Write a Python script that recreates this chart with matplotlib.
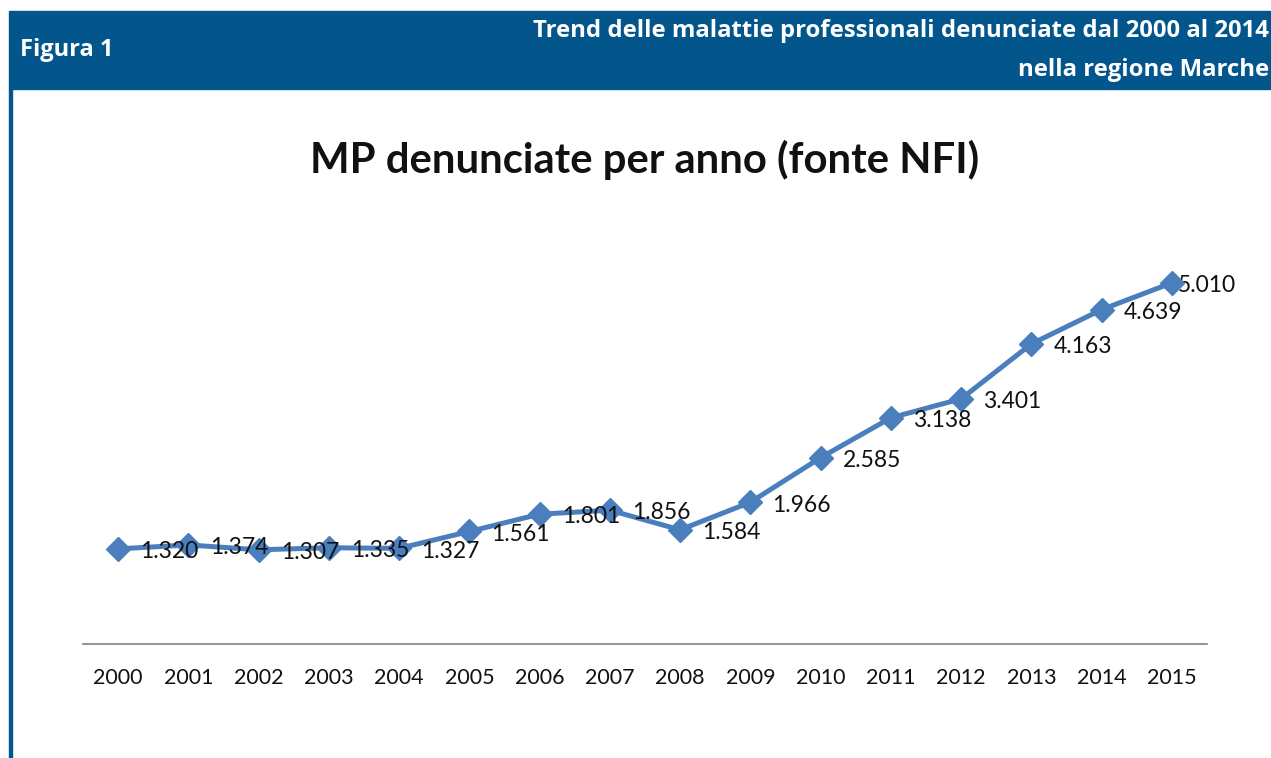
import matplotlib.pyplot as plt
from matplotlib.patches import Rectangle

years = ["2000", "2001", "2002", "2003", "2004", "2005", "2006", "2007",
         "2008", "2009", "2010", "2011", "2012", "2013", "2014", "2015"]
cases = [1320, 1374, 1307, 1335, 1327, 1561, 1801, 1856,
         1584, 1966, 2585, 3138, 3401, 4163, 4639, 5010]

header_left = "Figura 1"
header_right = "Trend delle malattie professionali denunciate dal 2000 al 2014\nnella regione Marche"
chart_title = "MP denunciate per anno (fonte NFI)"

BLUE_HEADER = "#02568C"
LINE_COLOR = "#4A7EBD"

W, H = 1271, 758
fig = plt.figure(figsize=(W / 100, H / 100), dpi=100)

# header band and left frame line (figure pixel coords)
fig.patches.append(Rectangle((9 / W, (H - 89) / H), (W - 9) / W, 78 / H,
                             transform=fig.transFigure, color=BLUE_HEADER, zorder=0))
fig.patches.append(Rectangle((9 / W, 0), 2.5 / W, (H - 89) / H,
                             transform=fig.transFigure, color=BLUE_HEADER, zorder=0))
fig.text(20 / W, 1 - 50 / H, header_left, color="white", fontsize=17,
         fontweight="bold", family="Open Sans", va="center", ha="left")
fig.text(1269 / W, 1 - 50.5 / H, header_right, color="white", fontsize=17.2,
         fontweight="bold", family="Open Sans", va="center", ha="right",
         linespacing=1.8, multialignment="right")

fig.text(645 / W, 1 - 160 / H, chart_title, fontsize=30.2, fontweight="bold",
         family="Lato", ha="center", va="center", color="#111111")

# plot area
ax = fig.add_axes([83 / W, (H - 644) / H, 1124 / W, 432.5 / H])
x = list(range(len(years)))
ax.plot(x, cases, color=LINE_COLOR, linewidth=3.6, marker="D", markersize=12,
        markerfacecolor=LINE_COLOR, markeredgecolor=LINE_COLOR, zorder=3)
for xi, v in zip(x, cases):
    lab = "{:,}".format(v).replace(",", ".")
    # last label is pushed against the marker (no room at the right edge)
    dx = 4 if xi == x[-1] else 16
    ax.annotate(lab, (xi, v), xytext=(dx, -2), textcoords="offset points",
                ha="left", va="center", fontsize=16.5, family="Lato",
                color="#111111", zorder=2 if xi == x[-1] else 4)

ax.set_xlim(-0.5, len(years) - 0.5)
ax.set_ylim(0, 6000)
ax.set_xticks(x)
ax.set_xticklabels(years, fontsize=15.5, family="Lato", color="#111111")
ax.tick_params(axis="x", length=0, pad=17)
ax.set_yticks([])
for side in ["top", "right", "left"]:
    ax.spines[side].set_visible(False)
ax.spines["bottom"].set_color("#8a7d78")
ax.spines["bottom"].set_linewidth(1.2)
ax.patch.set_alpha(0)

fig.savefig("out.png", dpi=100)
